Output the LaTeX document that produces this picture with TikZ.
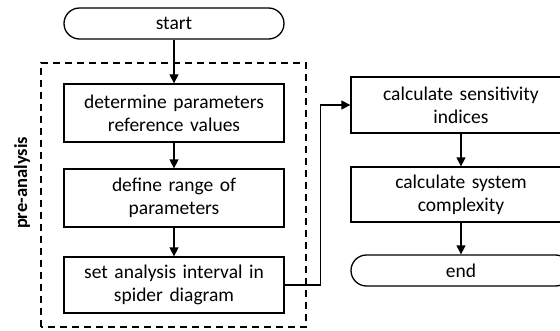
\documentclass[tikz,border=0pt]{standalone}
\usepackage{fontspec}
\setmainfont{Carlito}
\usetikzlibrary{arrows.meta}
\begin{document}
\begin{tikzpicture}[x=1pt,y=1pt,
    every node/.style={font=\fontsize{19.5}{23}\selectfont},
    stepbox/.style={draw,line width=1.3pt,minimum width=220pt,minimum height=57pt,
      inner sep=0pt,align=center,text width=214pt},
    termbox/.style={draw,line width=1.3pt,minimum width=220pt,minimum height=31pt,
      inner sep=0pt,rounded corners=15.5pt},
    flow/.style={-{Triangle[width=9pt,length=9pt]},line width=1.3pt}]
      \useasboundingbox (0,0) rectangle (560,330);
      \draw
        (174,306.5) node[termbox] (start){start}
        (174,217) node[stepbox,minimum height=58pt] (refval){determine parameters\\reference values}
        (174,132) node[stepbox,minimum height=58pt] (range){define range of\\parameters}
        (174,45) node[stepbox,minimum height=56pt] (interval){set analysis interval in\\spider diagram}
        (461,225) node[stepbox,minimum height=56pt] (sens){calculate sensitivity\\indices}
        (461,135.5) node[stepbox,minimum height=55pt] (complex){calculate system\\complexity}
        (461,59.5) node[termbox] (end){end};
      \draw[dash pattern=on 7pt off 5pt,line width=1.1pt] (41,3) rectangle (306,267);
      \node[rotate=90,font=\fontsize{18.5}{22}\selectfont\bfseries] (pre) at (22,147) {pre-analysis};
      \begin{scope}[flow]
        \draw (start) to (refval);
        \draw (refval) to (range);
        \draw (range) to (interval);
        \draw (interval.east) -- ++(36,0) |- (sens.west);
        \draw (sens) to (complex);
        \draw (complex) to (end);
      \end{scope}
    \end{tikzpicture}
\end{document}
